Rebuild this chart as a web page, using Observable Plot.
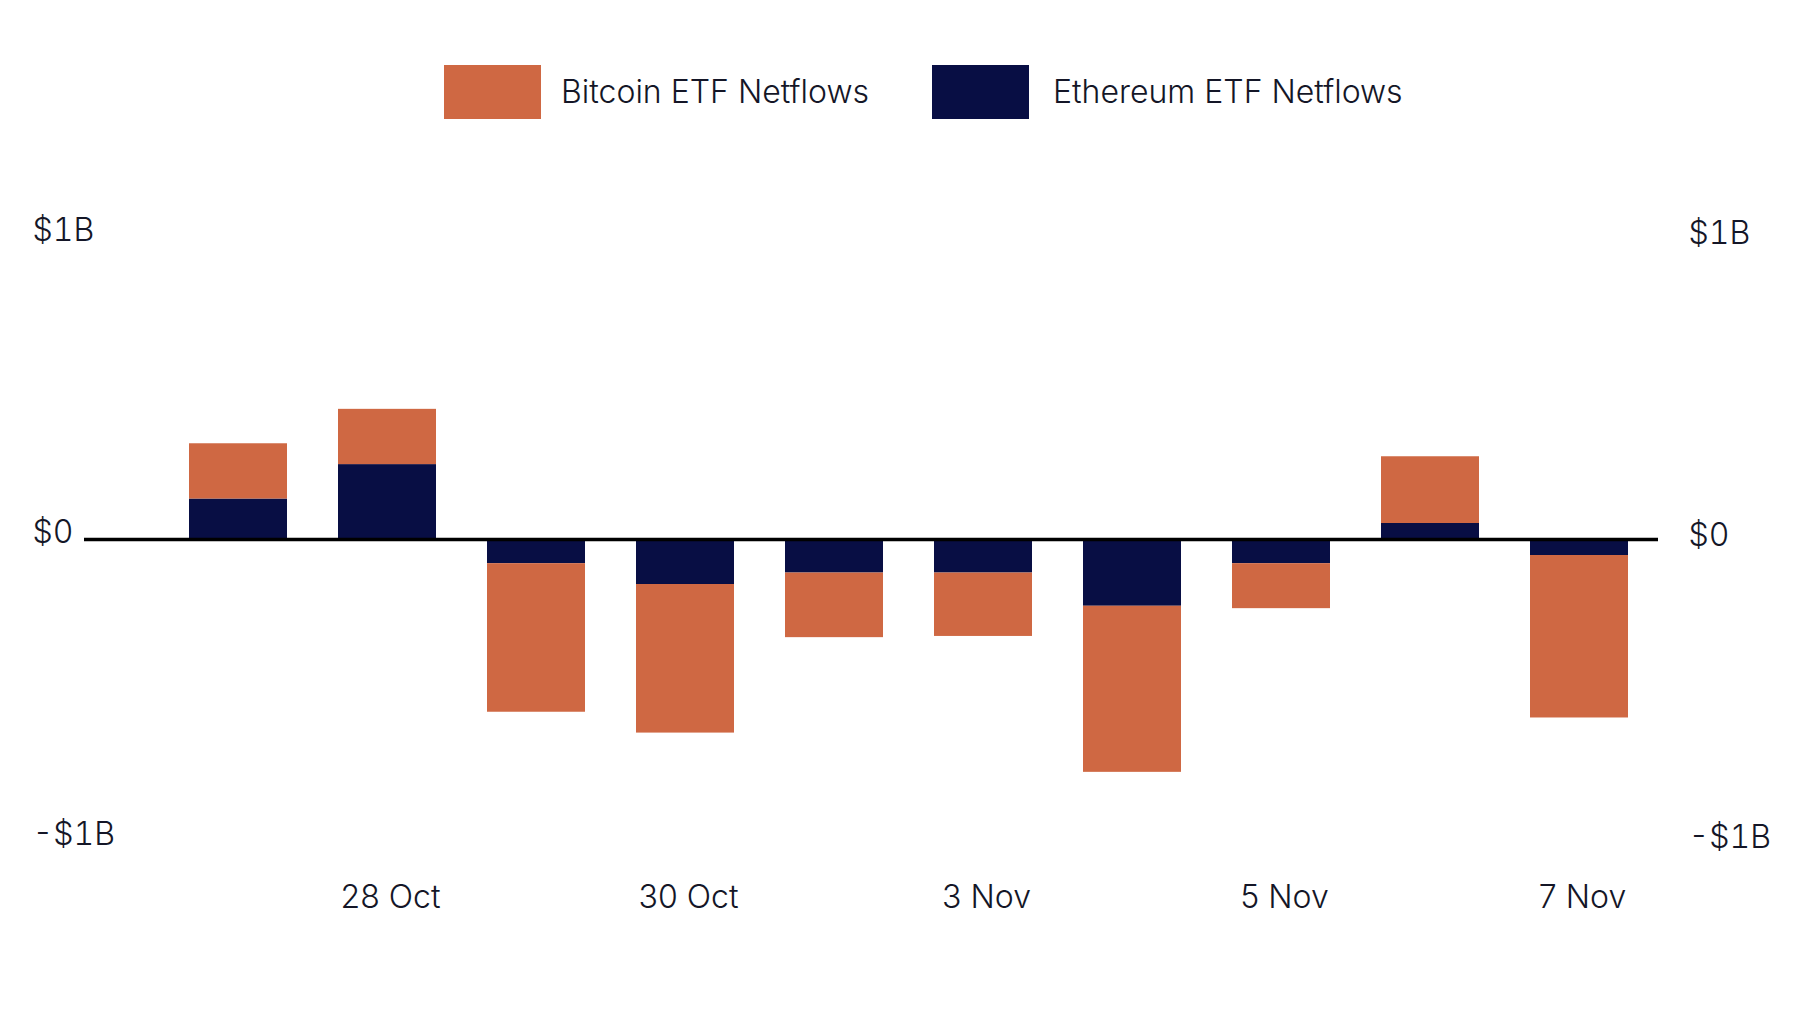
<!DOCTYPE html>
<html>
<head>
<meta charset="utf-8">
<script src="https://cdn.jsdelivr.net/npm/d3@7"></script>
<script src="https://cdn.jsdelivr.net/npm/@observablehq/plot@0.6"></script>
<style>
  html, body { margin: 0; padding: 0; background: #fff; }
  body { width: 1800px; height: 1032px; overflow: hidden; font-family: Inter, "Noto Sans", sans-serif; }
  #legend { position: relative; height: 150px; }
  .sw { position: absolute; top: 65px; width: 97px; height: 54px; }
  .lab { position: absolute; top: 70px; font-size: 32px; font-weight: 300; color: #141627; line-height: 44px; white-space: nowrap; }
</style>
</head>
<body>
<div id="legend"></div>
<div id="chart"></div>
<script>
// Data (values in $ billions)
const dates = ["27 Oct", "28 Oct", "29 Oct", "30 Oct", "31 Oct", "3 Nov", "4 Nov", "5 Nov", "6 Nov", "7 Nov"];
const bitcoinFlows = [0.183, 0.183, -0.492, -0.492, -0.214, -0.210, -0.550, -0.149, 0.221, -0.538];
const ethereumFlows = [0.134, 0.248, -0.080, -0.149, -0.111, -0.111, -0.221, -0.080, 0.053, -0.053];
const seriesNames = ["Bitcoin ETF Netflows", "Ethereum ETF Netflows"];
const seriesColors = ["#cf6843", "#080e44"];
const xTicks = ["28 Oct", "30 Oct", "3 Nov", "5 Nov", "7 Nov"];
const yTicks = [-1, 0, 1];
const yTickLabels = ["-$1B", "$0", "$1B"];

// Build long table
const rows = [];
dates.forEach((d, i) => {
  rows.push({date: d, series: seriesNames[1], value: ethereumFlows[i]});
  rows.push({date: d, series: seriesNames[0], value: bitcoinFlows[i]});
});

// Legend (HTML above the SVG)
const legend = document.getElementById("legend");
const legendPos = [{sw: 444, lab: 561}, {sw: 932, lab: 1053}];
seriesNames.forEach((name, i) => {
  const s = document.createElement("div");
  s.className = "sw";
  s.style.left = legendPos[i].sw + "px";
  s.style.background = seriesColors[i];
  legend.appendChild(s);
  const t = document.createElement("div");
  t.className = "lab";
  t.style.left = legendPos[i].lab + "px";
  t.textContent = name;
  legend.appendChild(t);
});

const W = 1800, H = 882;
const marginLeft = 84, marginRight = 142;
const fmt = v => yTickLabels[yTicks.indexOf(v)];

const chart = Plot.plot({
  width: W,
  height: H,
  marginLeft,
  marginRight,
  marginTop: 87,
  marginBottom: 191,
  style: {fontFamily: "Inter, 'Noto Sans', sans-serif", fontSize: "32px", fontWeight: 300, color: "#141627", background: "#fff"},
  x: {domain: dates, range: [164, 1654], paddingInner: 0.34, paddingOuter: 0.17, align: 0.5, axis: null},
  y: {domain: [-1, 1], axis: null},
  color: {domain: seriesNames, range: seriesColors},
  marks: [
    Plot.barY(rows, Plot.stackY({
      x: "date",
      y: "value",
      z: "series",
      fill: "series",
      order: [seriesNames[1], seriesNames[0]],
      inset: 0
    })),
    Plot.ruleY([0], {stroke: "#000", strokeWidth: 3.5}),
    Plot.axisY(yTicks, {anchor: "left", label: null, tickSize: 0, tickPadding: 0, textAnchor: "start", dx: -52, dy: -7, tickFormat: fmt, fontSize: 32, fill: "#141627"}),
    Plot.axisY(yTicks, {anchor: "right", label: null, tickSize: 0, tickPadding: 0, textAnchor: "start", dx: 30, dy: -4, tickFormat: fmt, fontSize: 32, fill: "#141627"}),
    Plot.axisX(xTicks, {anchor: "bottom", label: null, tickSize: 0, tickPadding: 0, lineAnchor: "middle", dy: 56, dx: 3, fontSize: 32, fill: "#141627"})
  ]
});
document.getElementById("chart").appendChild(chart);
</script>
</body>
</html>
